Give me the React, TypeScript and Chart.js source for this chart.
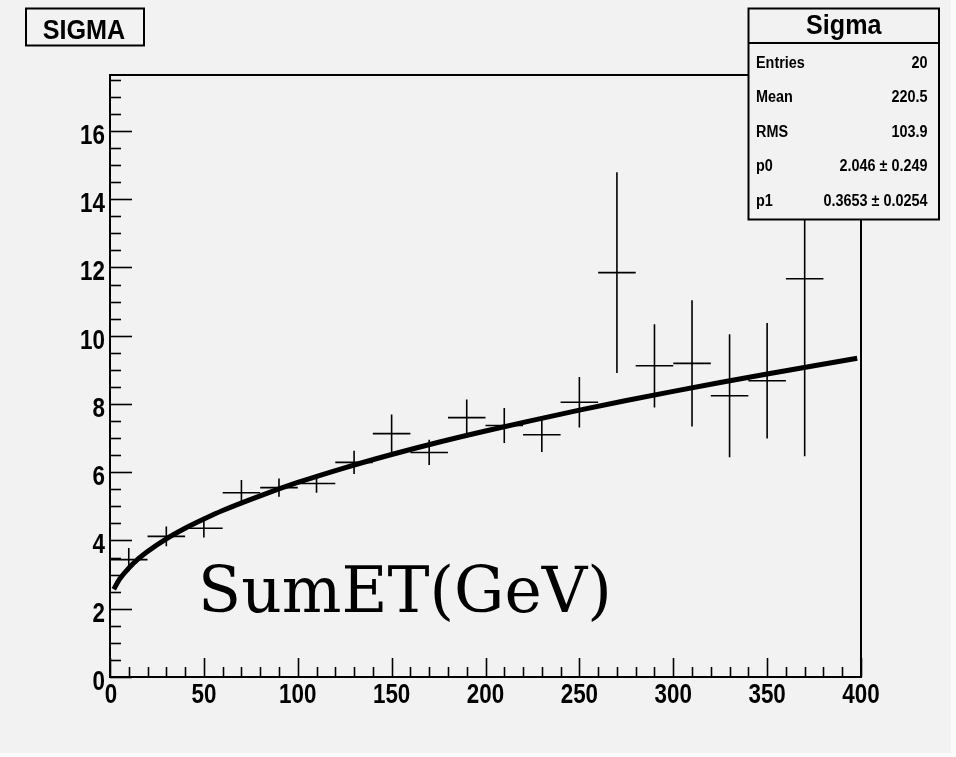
import React, { useEffect, useRef } from "react";
import { Chart, registerables } from "chart.js";

Chart.register(...registerables);

// ---- data ----
const binCenters = [10, 30, 50, 70, 90, 110, 130, 150, 170, 190, 210, 230, 250, 270, 290, 310, 330, 350, 370];
const sigmaValues = [3.44, 4.12, 4.36, 5.40, 5.55, 5.67, 6.29, 7.13, 6.58, 7.60, 7.37, 7.10, 8.05, 11.85, 9.12, 9.19, 8.24, 8.68, 11.67];
const sigmaErrors = [0.34, 0.29, 0.27, 0.37, 0.27, 0.27, 0.34, 0.56, 0.37, 0.53, 0.51, 0.51, 0.74, 2.94, 1.22, 1.85, 1.80, 1.69, 5.20];
const binHalfWidth = 10;

const fitX = [2, 5, 10, 15, 20, 30, 40, 50, 60, 80, 100, 125, 150, 175, 200, 225, 250, 275, 300, 325, 350, 375, 398];
const fitY = [2.57, 2.86, 3.19, 3.46, 3.68, 4.05, 4.36, 4.63, 4.88, 5.31, 5.70, 6.13, 6.52, 6.88, 7.21, 7.52, 7.82, 8.10, 8.37, 8.63, 8.88, 9.12, 9.34];

const xMin = 0;
const xMax = 400;
const yMin = 0;
const yMax = 17.64;
const xTickValues = [0, 50, 100, 150, 200, 250, 300, 350, 400];
const xTickLabels = ["0", "50", "100", "150", "200", "250", "300", "350", "400"];
const yTickValues = [0, 2, 4, 6, 8, 10, 12, 14, 16];
const yTickLabels = ["0", "2", "4", "6", "8", "10", "12", "14", "16"];
const xMinorStep = 10;
const yMinorStep = 0.5;

const histTitle = "SIGMA";
const statsTitle = "Sigma";
const statsLabels = ["Entries", "Mean", "RMS", "p0", "p1"];
const statsValues = ["20", "220.5", "103.9", "2.046 \u00b1 0.249", "0.3653 \u00b1 0.0254"];
const axisText = "SumET(GeV)";

const BG = "#f2f2f2";
const SANS = '"Liberation Sans", Arial, Helvetica, sans-serif';

function drawText(
  ctx: CanvasRenderingContext2D,
  s: string,
  x: number,
  y: number,
  font: string,
  sx: number,
  align: CanvasTextAlign
) {
  ctx.save();
  ctx.translate(x, y);
  ctx.scale(sx, 1);
  ctx.font = font;
  ctx.fillStyle = "#000";
  ctx.textAlign = align;
  ctx.textBaseline = "alphabetic";
  ctx.fillText(s, 0, 0);
  ctx.restore();
}

const rootPlugin = {
  id: "rootStyle",
  beforeDraw(chart: any) {
    const ctx = chart.ctx as CanvasRenderingContext2D;
    ctx.save();
    ctx.fillStyle = BG;
    ctx.fillRect(0, 0, chart.width, chart.height);
    ctx.fillStyle = "#fbfbfb";
    ctx.fillRect(951, 0, chart.width - 951, chart.height);
    ctx.fillRect(0, 753, chart.width, chart.height - 753);
    ctx.restore();
  },
  afterDraw(chart: any) {
    const ctx = chart.ctx as CanvasRenderingContext2D;
    const xs = chart.scales.x;
    const ys = chart.scales.y;
    const area = chart.chartArea;
    ctx.save();
    ctx.strokeStyle = "#000";
    ctx.lineCap = "butt";

    // frame
    ctx.lineWidth = 2;
    ctx.strokeRect(area.left, area.top, area.right - area.left, area.bottom - area.top);

    // y ticks (inside, left)
    ctx.lineWidth = 1.6;
    for (let v = yMin; v <= yMax + 1e-9; v += yMinorStep) {
      const p = Math.round(ys.getPixelForValue(v)) + 0.5;
      const major = Math.abs(v / 2 - Math.round(v / 2)) < 1e-6;
      const len = major ? 22 : 11;
      ctx.beginPath();
      ctx.moveTo(area.left, p);
      ctx.lineTo(area.left + len, p);
      ctx.stroke();
    }
    // x ticks (inside, bottom)
    for (let v = xMin; v <= xMax + 1e-9; v += xMinorStep) {
      const p = Math.round(xs.getPixelForValue(v)) + 0.5;
      const major = v % 50 === 0;
      const len = major ? 19 : 10;
      ctx.beginPath();
      ctx.moveTo(p, area.bottom);
      ctx.lineTo(p, area.bottom - len);
      ctx.stroke();
    }

    // tick labels
    const tickFont = `bold 27px ${SANS}`;
    yTickValues.forEach((v, i) => {
      const p = ys.getPixelForValue(v);
      drawText(ctx, yTickLabels[i], area.left - 5, p + 13, tickFont, 0.83, "right");
    });
    xTickValues.forEach((v, i) => {
      const p = xs.getPixelForValue(v);
      const dx = i === 0 ? 1 : 0;
      drawText(ctx, xTickLabels[i], p + dx, area.bottom + 26, tickFont, 0.83, "center");
    });

    // big axis text
    ctx.save();
    ctx.font = '63px "DejaVu Serif", serif';
    ctx.fillStyle = "#000";
    ctx.textAlign = "left";
    ctx.textBaseline = "alphabetic";
    ctx.fillText(axisText, 198, 612);
    ctx.restore();

    // title box
    ctx.fillStyle = BG;
    ctx.fillRect(26, 8.5, 118, 37);
    ctx.lineWidth = 2;
    ctx.strokeRect(26, 8.5, 118, 37);
    drawText(ctx, histTitle, 84, 39, `bold 28px ${SANS}`, 0.9, "center");

    // stats box
    const bx = 748.5, by = 8.5, bw = 190.5, bh = 211;
    ctx.fillStyle = BG;
    ctx.fillRect(bx, by, bw, bh);
    ctx.lineWidth = 2;
    ctx.strokeRect(bx, by, bw, bh);
    ctx.beginPath();
    ctx.moveTo(bx, 43);
    ctx.lineTo(bx + bw, 43);
    ctx.stroke();
    drawText(ctx, statsTitle, bx + bw / 2, 34, `bold 27px ${SANS}`, 0.93, "center");
    statsLabels.forEach((lab, i) => {
      const yb = 67.5 + i * 34.6;
      drawText(ctx, lab, 756, yb, `bold 16px ${SANS}`, 0.9, "left");
      drawText(ctx, statsValues[i], 927.5, yb, `bold 16px ${SANS}`, 0.9, "right");
    });
    ctx.restore();
  },
};

export default function App() {
  const ref = useRef<HTMLCanvasElement | null>(null);

  useEffect(() => {
    if (!ref.current) return;

    const hBars: any[] = [];
    const vBars: any[] = [];
    binCenters.forEach((x, i) => {
      const y = sigmaValues[i];
      const e = sigmaErrors[i];
      hBars.push({ x: x - binHalfWidth, y }, { x: x + binHalfWidth, y }, { x, y: null });
      vBars.push({ x, y: y - e }, { x, y: y + e }, { x, y: null });
    });
    const fitData = fitX.map((x, i) => ({ x, y: fitY[i] }));

    const chart = new Chart(ref.current, {
      type: "line",
      data: {
        datasets: [
          {
            label: "fit",
            data: fitData,
            borderColor: "#000",
            borderWidth: 5,
            pointRadius: 0,
            cubicInterpolationMode: "monotone",
            fill: false,
            order: 0,
          },
          {
            label: "binWidth",
            data: hBars,
            borderColor: "#000",
            borderWidth: 1.6,
            pointRadius: 0,
            spanGaps: false,
            tension: 0,
            fill: false,
            order: 1,
          },
          {
            label: "errors",
            data: vBars,
            borderColor: "#000",
            borderWidth: 1.6,
            pointRadius: 0,
            spanGaps: false,
            tension: 0,
            fill: false,
            order: 2,
          },
        ],
      } as any,
      options: {
        animation: false,
        responsive: false,
        devicePixelRatio: 1,
        parsing: false as any,
        layout: { padding: { left: 110, top: 75, right: 95, bottom: 80 } },
        plugins: {
          legend: { display: false },
          tooltip: { enabled: false },
          title: { display: false },
        },
        scales: {
          x: { type: "linear", min: xMin, max: xMax, display: false },
          y: { type: "linear", min: yMin, max: yMax, display: false },
        },
        events: [],
      } as any,
      plugins: [rootPlugin],
    });
    return () => chart.destroy();
  }, []);

  return (
    <div style={{ position: "fixed", left: 0, top: 0, width: 956, height: 757, background: BG }}>
      <canvas ref={ref} width={956} height={757} style={{ display: "block", width: 956, height: 757 }} />
    </div>
  );
}
